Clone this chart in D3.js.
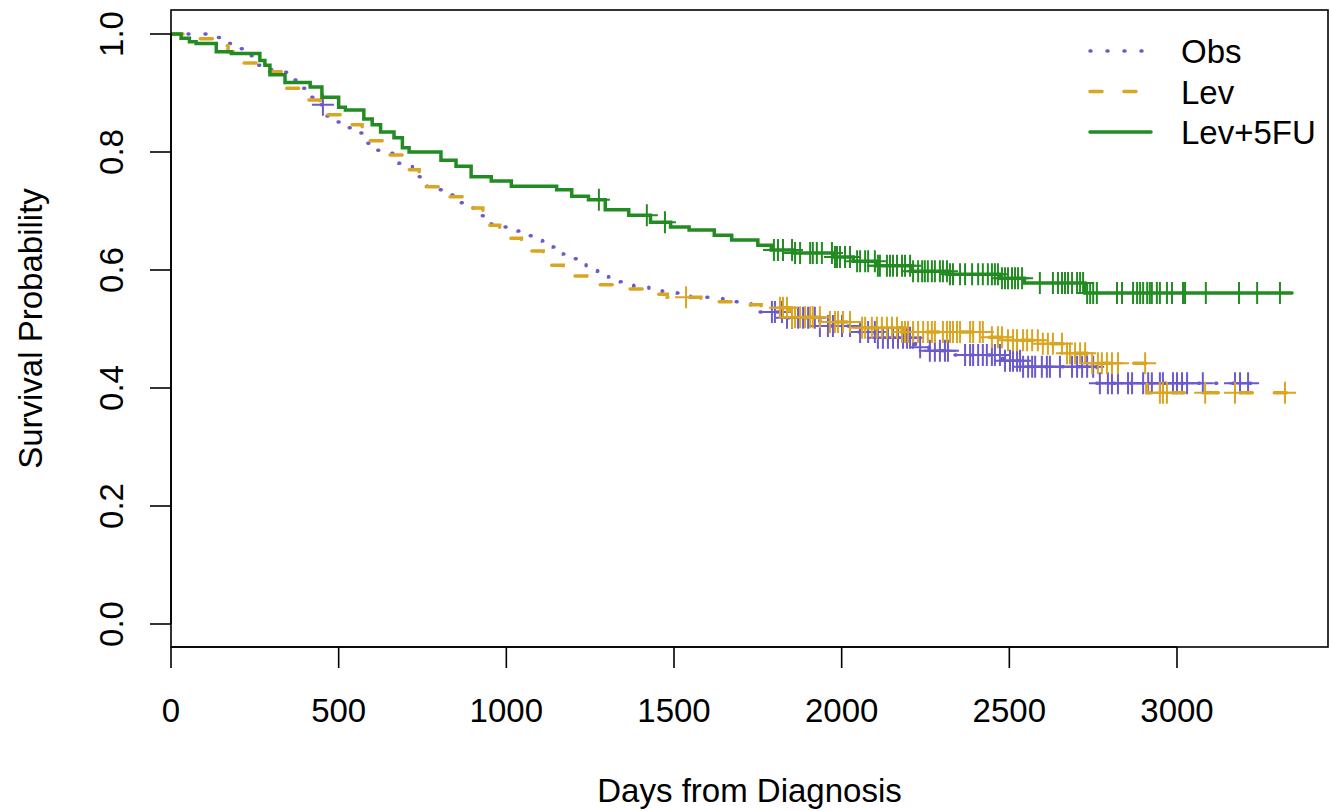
<!DOCTYPE html>
<html>
<head>
<meta charset="utf-8">
<script src="https://cdn.jsdelivr.net/npm/d3@7"></script>
<style>
  body{margin:0;background:#fff;}
  text{font-family:"Liberation Sans",Arial,Helvetica,sans-serif;fill:#000;}
</style>
</head>
<body>
<svg id="chart" width="1332" height="811"></svg>
<script>
const width=1332, height=811
const box={left:171,right:1328,top:10,bottom:647}

var groups=["Obs","Lev","Lev+5FU"]
var colors=["#6a5acd","#daa520","#228b22"]
var dashes=["1,16","12,22",null]

var xTicks=[0,500,1000,1500,2000,2500,3000]
var yTicks=[0,0.2,0.4,0.6,0.8,1.0]

// step curves: [day, survival after that day]
var obsSteps=[[0,1.0],[130,0.994],[165,0.984],[200,0.975],[235,0.963],[258,0.947],[300,0.935],[355,0.922],[390,0.908],[415,0.893],[440,0.880],[465,0.861],[490,0.851],[525,0.841],[560,0.832],[585,0.815],[615,0.803],[650,0.798],[680,0.781],[720,0.768],[740,0.758],[760,0.742],[800,0.736],[835,0.727],[865,0.714],[895,0.705],[925,0.692],[955,0.678],[995,0.673],[1035,0.666],[1070,0.658],[1108,0.649],[1140,0.639],[1170,0.627],[1205,0.619],[1238,0.607],[1272,0.598],[1305,0.588],[1340,0.580],[1380,0.573],[1425,0.569],[1465,0.564],[1510,0.561],[1550,0.554],[1645,0.551],[1685,0.546],[1730,0.541],[1750,0.529],[1835,0.519],[1935,0.505],[2035,0.495],[2100,0.485],[2220,0.469],[2260,0.463],[2330,0.456],[2480,0.446],[2540,0.436],[2760,0.408]]
var levSteps=[[0,1.0],[70,0.992],[150,0.980],[170,0.970],[205,0.951],[260,0.945],[285,0.936],[330,0.920],[345,0.908],[395,0.888],[445,0.875],[460,0.863],[510,0.846],[570,0.830],[580,0.819],[630,0.795],[690,0.770],[740,0.755],[755,0.741],[800,0.724],[870,0.705],[930,0.690],[940,0.676],[980,0.654],[1045,0.632],[1110,0.608],[1170,0.590],[1240,0.575],[1320,0.568],[1410,0.559],[1480,0.554],[1580,0.546],[1690,0.541],[1760,0.536],[1845,0.520],[1960,0.512],[2060,0.502],[2180,0.495],[2430,0.486],[2490,0.481],[2590,0.475],[2665,0.459],[2730,0.442],[2910,0.392]]
var lev5fuSteps=[[0,1.0],[30,0.993],[55,0.987],[75,0.984],[135,0.970],[180,0.967],[265,0.955],[280,0.947],[295,0.931],[340,0.918],[415,0.910],[450,0.893],[500,0.876],[520,0.871],[575,0.856],[600,0.846],[625,0.834],[665,0.824],[690,0.807],[710,0.800],[805,0.786],[850,0.776],[895,0.758],[955,0.751],[1015,0.742],[1150,0.736],[1195,0.725],[1245,0.719],[1295,0.702],[1365,0.693],[1430,0.681],[1490,0.673],[1545,0.668],[1620,0.659],[1672,0.651],[1750,0.642],[1790,0.634],[1855,0.629],[1975,0.622],[2035,0.615],[2105,0.607],[2210,0.598],[2315,0.593],[2470,0.586],[2545,0.578],[2725,0.561]]

var lastDay=[3247,3361,3343]

// censored follow-up times (days)
var obsCensor=[453,1792,1801,1822,1837,1852,1870,1885,1900,1920,1935,1959,1974,2001,2025,2055,2079,2099,2108,2123,2138,2153,2168,2183,2195,2204,2213,2234,2263,2278,2293,2308,2317,2368,2383,2392,2407,2421,2433,2448,2457,2472,2487,2502,2511,2523,2532,2541,2556,2568,2577,2597,2612,2621,2651,2687,2702,2717,2732,2750,2770,2794,2806,2824,2854,2866,2899,2914,2925,2949,2958,2988,3000,3015,3030,3077,3173,3188,3212]
var levCensor=[1536,1816,1825,1837,1852,1861,1876,1891,1906,1914,1935,1965,1980,1989,2004,2025,2061,2070,2090,2105,2120,2135,2150,2165,2180,2189,2198,2213,2228,2243,2257,2269,2278,2302,2314,2323,2332,2344,2353,2383,2392,2412,2421,2448,2466,2478,2496,2511,2523,2541,2553,2568,2585,2600,2615,2630,2657,2672,2681,2696,2711,2726,2747,2764,2776,2791,2806,2824,2905,2949,2958,2970,3084,3173,3322]
var lev5fuCensor=[1276,1419,1473,1798,1810,1825,1852,1861,1876,1906,1914,1926,1941,1971,1980,1986,1995,2010,2025,2046,2055,2070,2079,2099,2108,2114,2135,2144,2153,2165,2180,2189,2204,2213,2228,2240,2248,2257,2269,2278,2293,2302,2314,2323,2332,2353,2368,2389,2407,2421,2436,2448,2457,2466,2478,2487,2496,2508,2517,2526,2538,2591,2630,2645,2657,2666,2675,2687,2702,2711,2720,2732,2741,2750,2761,2821,2836,2869,2881,2890,2899,2911,2919,2925,2940,2949,2970,2985,3018,3024,3086,3185,3239,3307]

var allSteps=[obsSteps,levSteps,lev5fuSteps]
var allCensor=[obsCensor,levCensor,lev5fuCensor]

const svg=d3.select("#chart")
svg.attr("viewBox",`0 0 ${width} ${height}`)

var x=d3.scaleLinear().domain([0,3000]).range([171,1177])
var y=d3.scaleLinear().domain([0,1]).range([624,34])

var line=d3.line().x(d=>x(d[0])).y(d=>y(d[1])).curve(d3.curveStepAfter)
var bis=d3.bisector(d=>d[0]).right

var plot=svg.append("g")
plot.append("defs").append("clipPath").attr("id","clip")
    .append("rect").attr("x",box.left).attr("y",box.top)
    .attr("width",box.right-box.left).attr("height",box.bottom-box.top)

var curves=plot.append("g").attr("clip-path","url(#clip)")

allSteps.forEach((steps,i)=>{
  var pts=steps.concat([[lastDay[i],steps[steps.length-1][1]]])
  curves.append("path")
        .attr("d",line(pts))
        .attr("fill","none")
        .attr("stroke",colors[i])
        .attr("stroke-width",3.5)
        .attr("stroke-linecap","round")
        .attr("stroke-dasharray",dashes[i])

  var marks=curves.append("g").attr("stroke",colors[i]).attr("stroke-width",2)
  marks.selectAll("path").data(allCensor[i]).enter()
       .append("path")
       .attr("transform",d=>"translate("+x(d)+","+y(steps[bis(steps,d)-1][1])+")")
       .attr("d","M-11,0H11M0,-11V11")
})

// box and axes
svg.append("rect").attr("x",box.left).attr("y",box.top)
   .attr("width",box.right-box.left).attr("height",box.bottom-box.top)
   .attr("fill","none").attr("stroke","#000").attr("stroke-width",1.6)

var xa=svg.append("g").attr("transform","translate(0,"+box.bottom+")")
xa.append("line").attr("x1",x(0)).attr("x2",x(3000)).attr("stroke","#000").attr("stroke-width",1.6)
xa.selectAll("line.tick").data(xTicks).enter().append("line").attr("class","tick")
  .attr("x1",d=>x(d)).attr("x2",d=>x(d)).attr("y1",0).attr("y2",21)
  .attr("stroke","#000").attr("stroke-width",1.6)
xa.selectAll("text").data(xTicks).enter().append("text")
  .attr("x",d=>x(d)).attr("y",75)
  .attr("text-anchor","middle").style("font-size","33px")
  .text(d=>d)

var ya=svg.append("g").attr("transform","translate("+box.left+",0)")
ya.append("line").attr("y1",y(0)).attr("y2",y(1)).attr("stroke","#000").attr("stroke-width",1.6)
ya.selectAll("line.tick").data(yTicks).enter().append("line").attr("class","tick")
  .attr("y1",d=>y(d)).attr("y2",d=>y(d)).attr("x1",0).attr("x2",-21)
  .attr("stroke","#000").attr("stroke-width",1.6)
ya.selectAll("text").data(yTicks).enter().append("text")
  .attr("transform",d=>"translate(-48,"+y(d)+") rotate(-90)")
  .attr("text-anchor","middle").style("font-size","33px")
  .text(d=>d3.format(".1f")(d))

svg.append("text").attr("x",(box.left+box.right)/2).attr("y",802)
   .attr("text-anchor","middle").style("font-size","33px")
   .text("Days from Diagnosis")
svg.append("text").attr("transform","translate(42,"+(box.top+box.bottom)/2+") rotate(-90)")
   .attr("text-anchor","middle").style("font-size","33px")
   .text("Survival Probability")

// legend
var legend=svg.append("g").attr("class","legend")
legend.selectAll("line").data(groups).enter()
      .append("line")
      .attr("x1",1090).attr("x2",1151)
      .attr("y1",(d,i)=>51+40.5*i).attr("y2",(d,i)=>51+40.5*i)
      .attr("stroke",(d,i)=>colors[i]).attr("stroke-width",3.5)
      .attr("stroke-linecap","round")
      .attr("stroke-dasharray",(d,i)=>dashes[i])
legend.selectAll("text").data(groups).enter()
      .append("text")
      .attr("x",1181).attr("y",(d,i)=>63+40.5*i)
      .style("font-size","33px")
      .text(d=>d)
</script>
</body>
</html>
